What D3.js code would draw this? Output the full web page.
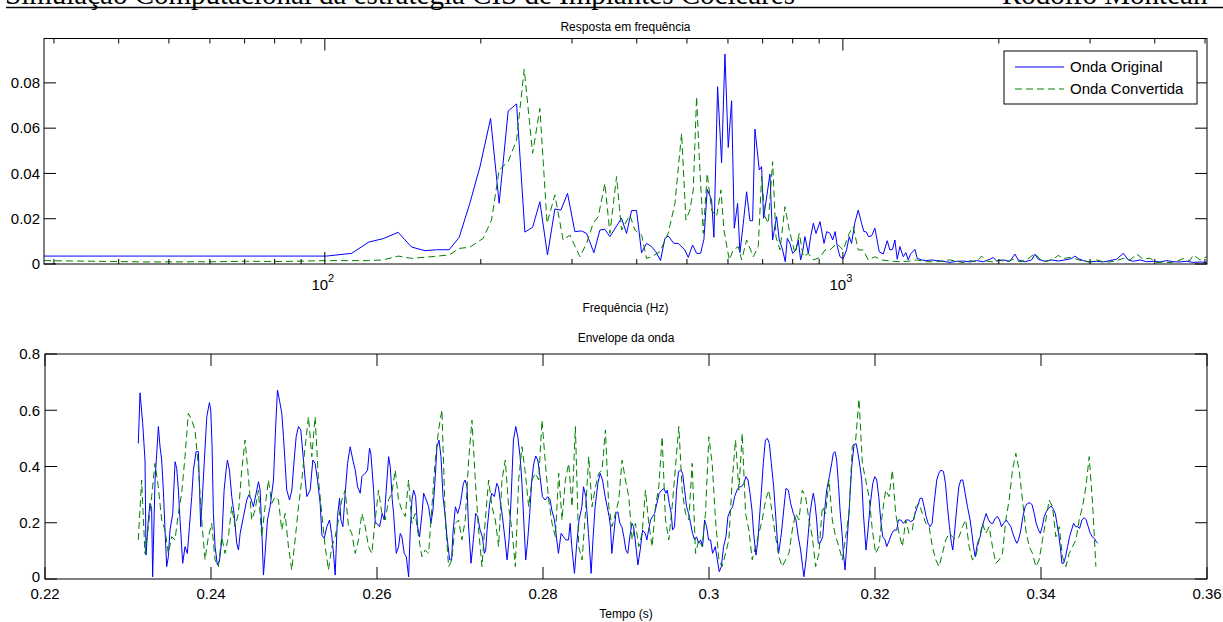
<!DOCTYPE html>
<html lang="pt">
<head>
<meta charset="utf-8">
<title>Resposta em frequência / Envelope da onda</title>
<script src="https://cdn.jsdelivr.net/npm/d3@7"></script>
<style>
  body { margin: 0; background: #fff; }
  svg { display: block; font-family: "Liberation Sans", Arial, sans-serif; }
</style>
</head>
<body>
<script>
// ---- data: frequency response (Hz, amplitude) ---------------------------------
const specOrig = [[28.7,0.0035],[100.8,0.0035],[112.6,0.0047],[121.6,0.0097],[129.6,0.0112],[138.5,0.0140],[147.0,0.0075],[156.0,0.0059],[164.3,0.0063],[173.8,0.0063],[181.7,0.0118],[190.5,0.0268],[199.3,0.0430],[208.9,0.0643],[217.0,0.0268],[225.9,0.0676],[234.5,0.0707],[243.3,0.0141],[251.8,0.0162],[260.1,0.0275],[269.0,0.0040],[278.0,0.0243],[285.5,0.0238],[294.1,0.0312],[303.8,0.0143],
  [313.0,0.0146],[320.1,0.0135],[330.6,0.0050],[339.6,0.0150],[347.2,0.0153],[355.0,0.0121],[373.9,0.0202],[382.3,0.0135],[390.9,0.0236],[399.7,0.0236],[408.7,0.0050],[417.8,0.0091],[427.2,0.0077],[435.5,0.0054],[444.6,0.0015],[453.3,0.0113],[460.0,0.0124],[471.8,0.0091],[481.0,0.0091],[495.5,0.0062],[502.9,0.0029],[512.7,0.0084],[521.9,0.0047],[531.2,0.0047],[539.2,0.0109],[547.2,0.0330],[557.9,0.0283],[563.7,0.0118],[573.0,0.0783],[583.3,0.0447],[592.0,0.0927],[600.8,0.0515],[609.8,0.0721],[617.1,0.0158],[626.3,0.0268],[632.8,0.0050],[642.3,0.0180],[651.9,0.0319],[661.6,0.0191],[669.5,0.0191],[676.5,0.0596],[689.6,0.0415],[696.8,0.0430],[703.0,0.0202],[723.1,0.0397],[731.7,0.0106],[744.8,0.0209],[753.7,0.0106],[765.0,0.0062],[774.1,0.0010],[781.0,0.0113],[790.3,0.0091],[799.8,0.0047],[811.8,0.0062],[820.2,0.0106],[828.7,0.0018],[836.1,0.0054],[844.8,0.0121],[857.6,0.0047],[866.5,0.0121],[877.0,0.0180],[887.4,0.0135],[903.3,0.0187],[919.6,0.0091],[930.6,0.0143],[944.4,0.0135],[955.7,0.0106],[966.0,0.0143],[975.5,0.0077],[987.4,0.0032],
  [1001.5,0.0024],[1016.4,0.0062],[1028.6,0.0121],[1039.3,0.0091],[1054.8,0.0183],[1070.6,0.0238],[1086.6,0.0180],[1097.9,0.0143],[1107.7,0.0143],[1120.9,0.0121],[1136.0,0.0124],[1152.9,0.0158],[1175.3,0.0054],[1196.4,0.0044],[1217.9,0.0103],[1232.4,0.0062],[1247.1,0.0065],[1260.1,0.0106],[1273.2,0.0021],[1288.4,0.0077],[1307.6,0.0032],[1323.2,0.0050],[1337.0,0.0018],[1351.0,0.0044],[1377.2,0.0065],[1391.6,0.0025],[1418.6,0.0018],[1450.5,0.0015],[1483.1,0.0018],[1516.4,0.0015],[1550.5,0.0013],[1608.9,0.0007],
  [1657.2,0.0012],[1707.1,0.0013],[1758.5,0.0009],[1811.4,0.0015],[1866.0,0.0010],[1922.1,0.0021],[1950.8,0.0029],[1979.9,0.0013],[2039.5,0.0018],[2100.9,0.0012],[2148.1,0.0044],[2180.2,0.0018],[2245.7,0.0010],[2313.2,0.0018],[2347.8,0.0043],[2382.8,0.0021],[2454.4,0.0012],[2528.2,0.0018],[2604.3,0.0013],[2682.6,0.0018],[2763.2,0.0024],[2804.5,0.0035],[2846.3,0.0024],[2910.3,0.0015],[2997.8,0.0009],[3088.0,0.0012],[3180.9,0.0009],[3276.6,0.0015],[3375.1,0.0021],[3477.8,0.0047],[3555.9,0.0018],[3635.8,0.0012],[3745.3,0.0018],[3857.8,0.0010],[3973.8,0.0012],[4093.4,0.0009],[4216.5,0.0015],[4343.4,0.0010],[4474.1,0.0009],[4608.7,0.0012],[4747.3,0.0007],[4890.1,0.0009],[5037.1,0.0007]];

const specConv = [[28.7,0.0015],[45.0,0.0009],[60.9,0.0010],[70.6,0.0012],[81.9,0.0011],[100.8,0.0015],[121.6,0.0015],[129.6,0.0018],[138.5,0.0035],[147.0,0.0025],[160.0,0.0032],[173.8,0.0040],[181.7,0.0069],[190.5,0.0074],[202.1,0.0113],[209.8,0.0194],[217.0,0.0415],[225.9,0.0452],[234.5,0.0548],[242.6,0.0860],[251.8,0.0489],[260.1,0.0687],[268.5,0.0180],[278.0,0.0305],[288.4,0.0106],[297.2,0.0128],
  [310.7,0.0032],[320.1,0.0091],[329.6,0.0180],[337.1,0.0209],[347.2,0.0356],[355.0,0.0135],[365.7,0.0386],[373.9,0.0150],[388.0,0.0216],[396.7,0.0150],[408.7,0.0128],[417.8,0.0025],[427.2,0.0032],[443.3,0.0054],[460.0,0.0135],[474.0,0.0268],[488.3,0.0577],[497.7,0.0194],[506.6,0.0238],[514.2,0.0327],[521.9,0.0739],[528.1,0.0474],[537.6,0.0135],[547.2,0.0400],[557.9,0.0238],[570.3,0.0209],[581.6,0.0327],[589.4,0.0150],[603.5,0.0018],[614.4,0.0062],[628.2,0.0077],[637.6,0.0018],[651.9,0.0106],[671.5,0.0032],[686.5,0.0077],[696.8,0.0386],[707.2,0.0209],[717.8,0.0180],[731.7,0.0452],[742.6,0.0121],[756.0,0.0062],[773.0,0.0253],[787.9,0.0150],[808.2,0.0047],[823.9,0.0135],[838.6,0.0032],[857.6,0.0047],[877.0,0.0018],[903.3,0.0029],[923.7,0.0062],[944.4,0.0062],[972.3,0.0091],
  [1001.5,0.0062],[1028.6,0.0135],[1047.0,0.0165],[1070.6,0.0062],[1094.7,0.0062],[1119.2,0.0018],[1152.9,0.0032],[1187.6,0.0018],[1232.4,0.0013],[1288.4,0.0010],[1347.0,0.0013],[1387.5,0.0018],[1450.5,0.0010],[1516.4,0.0010],[1608.9,0.0018],
  [1657.2,0.0012],[1707.1,0.0006],[1758.5,0.0015],[1811.4,0.0010],[1852.1,0.0035],[1893.8,0.0013],[1950.8,0.0009],[2009.5,0.0018],[2070.0,0.0009],[2132.3,0.0021],[2196.4,0.0010],[2262.4,0.0018],[2347.8,0.0047],[2400.5,0.0021],[2472.7,0.0012],[2547.0,0.0021],[2604.3,0.0038],[2662.8,0.0024],[2742.9,0.0029],[2825.3,0.0021],[2910.3,0.0012],[2997.8,0.0009],[3088.0,0.0018],[3180.9,0.0010],[3276.6,0.0009],[3375.1,0.0015],[3477.8,0.0025],[3582.3,0.0018],[3690.2,0.0044],[3801.2,0.0021],[3915.4,0.0026],[4033.2,0.0006],[4154.5,0.0009],[4279.5,0.0006],[4408.3,0.0012],[4540.9,0.0024],[4677.5,0.0015],[4747.3,0.0040],[4890.1,0.0018],[5037.1,0.0032]];

// ---- data: wave envelope (time in ms, value) -------------------------------------
const envOrig = [[231.24,0.482],[231.45,0.662],[231.77,0.553],[232.05,0.423],[232.17,0.085],[232.45,0.210],[232.65,0.269],[232.85,0.251],[232.97,0.008],[233.26,0.352],[233.66,0.542],[233.86,0.470],[234.06,0.423],[234.26,0.316],[234.46,0.174],[234.66,0.044],[234.86,0.079],[235.06,0.174],[235.39,0.233],[235.67,0.417],[235.87,0.393],[236.07,0.316],[236.27,0.210],[236.59,0.056],[236.87,0.115],[237.15,0.091],[237.40,0.186],[237.68,0.293],[237.88,0.387],[238.20,0.453],[238.48,0.453],[238.76,0.186],[239.49,0.577],[239.81,0.627],[239.97,0.601],[240.13,0.470],[240.29,0.233],[240.49,0.115],[240.77,0.050],[241.01,0.062],[241.30,0.139],[241.58,0.316],[241.82,0.387],[241.98,0.423],[242.22,0.387],[242.50,0.293],[242.78,0.233],[243.10,0.127],[243.31,0.103],[243.51,0.162],[243.91,0.222],[244.31,0.281],[244.55,0.299],[244.79,0.287],[245.11,0.257],[245.44,0.305],[245.72,0.346],[245.92,0.316],[246.12,0.174],[246.32,0.014],[246.52,0.091],[246.80,0.210],[247.12,0.257],[247.53,0.352],[247.77,0.530],[248.01,0.672],[248.25,0.636],[248.53,0.589],[248.73,0.506],[248.93,0.411],[249.13,0.316],[249.46,0.281],[249.74,0.316],[250.02,0.423],[250.26,0.506],[250.54,0.542],[250.82,0.530],[251.14,0.423],[251.35,0.352],[251.55,0.293],[251.95,0.316],[252.27,0.423],[252.55,0.411],[252.83,0.352],[253.15,0.269],[253.36,0.156],[253.64,0.145],[253.96,0.186],[254.28,0.210],[254.52,0.162],[254.76,0.091],[254.96,0.014],[255.24,0.222],[255.49,0.287],[255.65,0.210],[255.89,0.186],[256.17,0.305],[256.45,0.411],[256.77,0.470],[257.09,0.423],[257.38,0.387],[257.66,0.328],[257.98,0.305],[258.18,0.364],[258.58,0.376],[258.86,0.387],[259.10,0.465],[259.26,0.447],[259.59,0.316],[259.79,0.198],[259.99,0.198],[260.31,0.186],[260.63,0.233],[260.87,0.210],[261.11,0.316],[261.40,0.435],[261.60,0.399],[261.84,0.281],[262.00,0.233],[262.32,0.091],[262.60,0.115],[262.80,0.162],[263.00,0.150],[263.28,0.091],[263.53,0.079],[263.81,0.008],[264.01,0.174],[264.21,0.281],[264.41,0.316],[264.65,0.293],[264.89,0.186],[265.13,0.150],[265.42,0.233],[265.62,0.305],[265.94,0.281],[266.22,0.257],[266.50,0.198],[266.74,0.245],[267.02,0.364],[267.22,0.470],[267.47,0.494],[267.71,0.435],[267.95,0.293],[268.23,0.222],[268.43,0.150],[268.75,0.068],[268.99,0.068],[269.15,0.162],[269.44,0.257],
  [269.72,0.233],[269.96,0.257],[270.12,0.281],[270.41,0.340],[270.61,0.352],[270.85,0.328],[271.01,0.198],[271.33,0.056],[271.61,0.139],[271.89,0.233],[272.13,0.222],[272.42,0.174],[272.70,0.150],[272.94,0.091],[273.10,0.103],[273.26,0.174],[273.58,0.269],[273.82,0.305],[274.14,0.293],[274.43,0.340],[274.63,0.328],[274.83,0.281],[275.11,0.222],[275.43,0.139],[275.67,0.068],[275.91,0.139],[276.15,0.281],[276.44,0.494],[276.72,0.542],[276.96,0.506],[277.24,0.435],[277.44,0.352],[277.68,0.210],[277.92,0.068],[278.16,0.139],[278.40,0.233],[278.65,0.352],[278.89,0.411],[279.13,0.437],[279.37,0.423],[279.65,0.364],[279.93,0.293],[280.25,0.281],[280.58,0.293],[280.86,0.281],[281.06,0.245],[281.38,0.210],[281.66,0.139],[281.86,0.091],[282.18,0.162],[282.47,0.150],[282.75,0.139],[283.07,0.139],[283.27,0.198],[283.47,0.115],[283.79,0.020],[284.07,0.127],[284.35,0.210],[284.68,0.257],[284.88,0.328],[285.16,0.293],[285.48,0.162],[285.80,0.020],[286.04,0.150],[286.28,0.257],[286.61,0.340],[286.89,0.376],[287.17,0.352],[287.49,0.293],[287.73,0.257],[287.97,0.222],[288.13,0.186],[288.29,0.091],[288.54,0.162],[288.78,0.233],[289.02,0.239],[289.26,0.198],[289.50,0.186],[289.74,0.150],[289.98,0.103],[290.22,0.091],[290.46,0.150],[290.71,0.198],[290.91,0.186],[291.11,0.139],[291.43,0.050],[291.71,0.103],[291.99,0.174],[292.31,0.162],[292.52,0.139],[292.72,0.174],[292.96,0.210],[293.20,0.222],[293.44,0.233],[293.72,0.269],[294.00,0.305],[294.32,0.316],[294.57,0.322],[294.81,0.305],[294.97,0.316],[295.21,0.269],[295.45,0.233],[295.61,0.174],[295.85,0.186],[296.09,0.316],[296.33,0.382],[296.58,0.387],[296.82,0.376],[297.06,0.316],[297.30,0.257],[297.54,0.233],[297.78,0.198],[298.02,0.162],[298.26,0.139],[298.50,0.150],[298.75,0.127],[298.99,0.139],[299.23,0.115],[299.47,0.210],[299.71,0.186],[299.95,0.139],[300.19,0.139],[300.43,0.091],[300.76,0.115],[301.00,0.068],[301.24,0.026],[301.48,0.044],[301.76,0.115],[302.04,0.150],[302.28,0.222],[302.57,0.245],[302.85,0.257],[303.09,0.293],[303.37,0.316],[303.65,0.328],[303.89,0.328],[304.21,0.340],[304.45,0.364],[304.70,0.352],[304.94,0.305],[305.18,0.245],[305.38,0.162],[305.66,0.085],[305.90,0.139],[306.06,0.210],[306.30,0.305],[306.54,0.411],[306.79,0.494],[307.03,0.500],[307.27,0.482],[307.51,0.411],[307.79,0.328],[307.99,0.245],[308.23,0.139],[308.39,0.091],[308.72,0.162],[309.00,0.245],
  [309.27,0.322],[309.56,0.316],[309.84,0.269],[310.16,0.233],[310.48,0.210],[310.76,0.150],[311.04,0.103],[311.28,0.044],[311.44,0.008],[311.69,0.068],[311.93,0.150],[312.17,0.233],[312.41,0.281],[312.57,0.305],[312.77,0.269],[312.97,0.210],[313.17,0.127],[313.37,0.127],[313.70,0.150],[313.98,0.257],[314.18,0.316],[314.50,0.364],[314.78,0.411],[314.98,0.447],[315.18,0.453],[315.38,0.423],[315.59,0.340],[315.79,0.245],[316.03,0.162],[316.19,0.091],[316.39,0.032],[316.59,0.115],[316.91,0.257],[317.19,0.399],[317.47,0.476],[317.72,0.482],[317.88,0.459],[318.20,0.399],[318.40,0.352],[318.60,0.233],[318.80,0.150],[318.92,0.103],[319.16,0.174],[319.40,0.257],[319.73,0.340],[319.97,0.364],[320.21,0.352],[320.45,0.293],[320.69,0.210],[320.93,0.150],[321.21,0.139],[321.41,0.115],[321.74,0.139],[322.02,0.162],[322.30,0.174],[322.62,0.174],[322.82,0.210],[323.10,0.210],[323.42,0.198],[323.75,0.210],[324.03,0.210],[324.31,0.204],[324.63,0.210],[324.83,0.233],[325.11,0.257],[325.43,0.287],[325.68,0.287],[325.92,0.257],[326.16,0.222],[326.40,0.198],[326.64,0.186],[326.88,0.198],[327.12,0.269],[327.44,0.352],[327.69,0.376],[327.93,0.387],[328.25,0.382],[328.49,0.340],[328.73,0.257],[328.97,0.186],[329.21,0.127],[329.37,0.103],[329.61,0.174],[329.86,0.257],[330.10,0.328],[330.34,0.352],[330.58,0.352],[330.86,0.305],[331.14,0.257],[331.46,0.210],[331.67,0.162],[331.87,0.115],[332.07,0.079],[332.35,0.127],[332.67,0.150],[332.91,0.186],[333.15,0.210],[333.39,0.233],[333.68,0.210],[333.96,0.198],[334.20,0.198],[334.48,0.216],[334.76,0.222],[335.00,0.210],[335.24,0.186],[335.48,0.198],[335.81,0.210],[336.09,0.198],[336.37,0.186],[336.61,0.162],[336.89,0.139],[337.09,0.127],[337.29,0.139],[337.57,0.174],[337.82,0.222],[338.10,0.257],[338.38,0.269],[338.70,0.271],[338.94,0.263],[339.18,0.233],[339.42,0.198],[339.71,0.174],[339.91,0.162],[340.15,0.186],[340.39,0.222],[340.63,0.239],[340.91,0.251],[341.19,0.260],[341.43,0.251],[341.72,0.233],[341.92,0.198],[342.12,0.162],[342.32,0.115],[342.52,0.056],[342.72,0.056],[342.96,0.079],[343.20,0.115],[343.44,0.150],[343.68,0.174],[343.93,0.198],[344.17,0.186],[344.41,0.186],[344.65,0.180],[344.93,0.210],[345.21,0.218],[345.45,0.210],[345.69,0.186],[345.94,0.162],[346.18,0.150],[346.42,0.145],[346.66,0.133],[346.82,0.127]];

// converted wave: samples read every 0.402 ms starting at 231.24 ms
const envConvStartMs = 231.24, envConvStepMs = 0.402;
const envConv = [0.139,0.352,0.091,0.186,0.293,0.411,0.328,0.210,0.174,0.091,0.150,0.139,0.233,0.305,0.435,0.589,0.565,0.530,0.399,0.210,0.068,0.150,0.198,0.068,0.044,0.150,0.091,0.150,0.257,0.186,0.233,0.387,0.494,0.364,0.210,0.245,0.316,0.150,0.257,0.352,0.269,0.293,0.281,0.174,0.233,0.115,0.032,0.139,0.257,0.352,0.470,0.577,0.435,0.577,0.352,0.233,0.115,0.032,0.115,0.150,0.210,0.281,0.316,0.186,0.162,0.091,0.139,0.233,0.186,0.115,0.091,0.210,0.316,0.233,0.210,0.281,0.305,0.387,0.281,0.245,0.222,0.352,0.198,0.233,0.150,0.079,0.103,0.091,0.257,0.423,0.530,0.601,0.210,0.044,0.068,0.198,0.210,
  0.139,0.210,0.423,0.565,0.352,0.174,0.044,0.210,0.352,0.257,0.210,0.115,0.352,0.423,0.257,0.174,0.044,0.352,0.470,0.376,0.257,0.352,0.376,0.352,0.565,0.411,0.281,0.198,0.150,0.376,0.210,0.352,0.411,0.257,0.542,0.115,0.068,0.233,0.435,0.257,0.328,0.376,0.387,0.530,0.257,0.186,0.233,0.281,0.423,0.352,0.293,0.139,0.198,0.115,0.162,0.316,0.198,0.115,0.257,0.328,0.506,0.210,0.139,0.257,0.399,0.542,0.316,0.233,0.210,0.411,0.091,0.139,0.115,0.233,0.506,0.411,0.210,0.068,0.044,0.091,0.139,0.352,0.494,0.316,0.518,0.233,0.174,0.068,0.115,0.162,0.210,0.281,0.316,0.233,0.150,0.079,0.044,
  0.068,0.091,0.174,0.233,0.210,0.316,0.293,0.210,0.150,0.044,0.091,0.257,0.233,0.352,0.210,0.150,0.115,0.068,0.150,0.233,0.470,0.494,0.640,0.411,0.352,0.293,0.174,0.091,0.115,0.233,0.316,0.293,0.387,0.233,0.162,0.115,0.210,0.162,0.174,0.257,0.269,0.233,0.198,0.186,0.115,0.068,0.044,0.091,0.139,0.162,0.150,0.139,0.150,0.186,0.210,0.115,0.068,0.079,0.139,0.198,0.162,0.186,0.115,0.056,0.068,0.091,0.210,0.281,0.387,0.447,0.387,0.281,0.174,0.115,0.091,0.044,0.068,0.139,0.210,0.281,0.257,0.150,0.186,0.079,0.044,0.091,0.115,0.139,0.210,0.257,0.328,0.435,0.269,0.044];

// ---- ticks and labels ----------------------------------------------------------
const specYTicks = [0, 0.02, 0.04, 0.06, 0.08];
const specMajor = [100, 1000];
const specMinor = [30, 40, 50, 60, 70, 80, 90, 200, 300, 400, 500, 600, 700, 800, 900, 2000, 3000, 4000, 5000];
const envXTicks = [220, 240, 260, 280, 300, 320, 340, 360];
const envYTicks = [0, 0.2, 0.4, 0.6, 0.8];
const seriesNames = ["Onda Original", "Onda Convertida"];

const W = 1223, H = 622;
const BLUE = "#0000ff", GREEN = "#008000";

const svg = d3.select("body").append("svg").attr("width", W).attr("height", H);

// page header of the document (cut at the top)
svg.append("text").attr("x", 5).attr("y", 4)
   .attr("font-family", "Liberation Serif, Times New Roman, serif").attr("font-size", 29)
   .text("Simulação Computacional da estratégia CIS de Implantes Cocleares");
svg.append("text").attr("x", 1002).attr("y", 4)
   .attr("font-family", "Liberation Serif, Times New Roman, serif").attr("font-size", 29)
   .text("Rodolfo Montean");
svg.append("line").attr("x1", 6).attr("x2", W).attr("y1", 7.5).attr("y2", 7.5)
   .attr("stroke", "#000").attr("stroke-width", 1.4);

// ---- top panel ------------------------------------------------------------------
const p1 = {l: 44, r: 1207, t: 38.5, b: 264};
const x1 = d3.scaleLog().domain([28.7, 5045]).range([p1.l, p1.r]);
const y1 = d3.scaleLinear().domain([0, 0.0996]).range([p1.b, p1.t]);

svg.append("clipPath").attr("id", "clip1").append("rect")
   .attr("x", p1.l).attr("y", p1.t).attr("width", p1.r - p1.l).attr("height", p1.b - p1.t);

const line1 = d3.line().x(d => x1(d[0])).y(d => y1(d[1]));
const g1 = svg.append("g").attr("clip-path", "url(#clip1)");
g1.append("path").datum(specOrig).attr("d", line1)
  .attr("fill", "none").attr("stroke", BLUE).attr("stroke-width", 1);
g1.append("path").datum(specConv).attr("d", line1)
  .attr("fill", "none").attr("stroke", GREEN).attr("stroke-width", 1).attr("stroke-dasharray", "7,4");

function frame(p) {
  svg.append("rect").attr("x", p.l).attr("y", p.t).attr("width", p.r - p.l).attr("height", p.b - p.t)
     .attr("fill", "none").attr("stroke", "#000").attr("stroke-width", 1);
}
frame(p1);

// ticks point inward, on both opposite sides of the box
function xTicks(scale, p, vals, len) {
  vals.forEach(v => {
    const x = scale(v);
    svg.append("line").attr("x1", x).attr("x2", x).attr("y1", p.b).attr("y2", p.b - len).attr("stroke", "#000");
    svg.append("line").attr("x1", x).attr("x2", x).attr("y1", p.t).attr("y2", p.t + len).attr("stroke", "#000");
  });
}
function yTicks(scale, p, vals, len) {
  vals.forEach(v => {
    const y = scale(v);
    svg.append("line").attr("x1", p.l).attr("x2", p.l + len).attr("y1", y).attr("y2", y).attr("stroke", "#000");
    svg.append("line").attr("x1", p.r).attr("x2", p.r - len).attr("y1", y).attr("y2", y).attr("stroke", "#000");
  });
}
xTicks(x1, p1, specMajor, 12);
xTicks(x1, p1, specMinor, 5);
yTicks(y1, p1, specYTicks, 12);

svg.selectAll("text.y1").data(specYTicks).join("text").attr("class", "y1")
   .attr("x", p1.l - 4).attr("y", d => y1(d)).attr("dy", "0.35em")
   .attr("text-anchor", "end").attr("font-size", 15)
   .text(d => d === 0 ? "0" : String(d));

svg.selectAll("text.x1").data(specMajor).join("text").attr("class", "x1")
   .attr("x", d => x1(d) - 2).attr("y", 290).attr("text-anchor", "middle").attr("font-size", 15)
   .each(function(d) {
     const t = d3.select(this);
     t.append("tspan").text("10");
     t.append("tspan").attr("dy", -8).attr("font-size", 11).text(Math.round(Math.log10(d)));
   });

svg.append("text").attr("x", (p1.l + p1.r) / 2).attr("y", 31).attr("text-anchor", "middle")
   .attr("font-size", 12).text("Resposta em frequência");
svg.append("text").attr("x", (p1.l + p1.r) / 2).attr("y", 312).attr("text-anchor", "middle")
   .attr("font-size", 12).text("Frequência (Hz)");

// legend
const lg = svg.append("g").attr("transform", "translate(1004,51)");
lg.append("rect").attr("width", 193).attr("height", 53).attr("fill", "#fff").attr("stroke", "#000");
seriesNames.forEach((name, i) => {
  const yy = 16 + i * 22;
  lg.append("line").attr("x1", 11).attr("x2", 60).attr("y1", yy).attr("y2", yy)
    .attr("stroke", i === 0 ? BLUE : GREEN).attr("stroke-dasharray", i === 0 ? null : "7,4");
  lg.append("text").attr("x", 66).attr("y", yy).attr("dy", "0.35em").attr("font-size", 15).text(name);
});

// ---- bottom panel ---------------------------------------------------------------
const p2 = {l: 45, r: 1207, t: 354, b: 579};
const x2 = d3.scaleLinear().domain([220, 360]).range([p2.l, p2.r]);
const y2 = d3.scaleLinear().domain([0, 0.8]).range([p2.b, p2.t]);

svg.append("clipPath").attr("id", "clip2").append("rect")
   .attr("x", p2.l).attr("y", p2.t).attr("width", p2.r - p2.l).attr("height", p2.b - p2.t);

const g2 = svg.append("g").attr("clip-path", "url(#clip2)");
g2.append("path").datum(envOrig)
  .attr("d", d3.line().x(d => x2(d[0])).y(d => y2(d[1])))
  .attr("fill", "none").attr("stroke", BLUE).attr("stroke-width", 1);
g2.append("path").datum(envConv)
  .attr("d", d3.line().x((d, i) => x2(envConvStartMs + i * envConvStepMs)).y(d => y2(d)))
  .attr("fill", "none").attr("stroke", GREEN).attr("stroke-width", 1).attr("stroke-dasharray", "7,4");

frame(p2);
xTicks(x2, p2, envXTicks, 12);
yTicks(y2, p2, envYTicks, 12);

svg.selectAll("text.y2").data(envYTicks).join("text").attr("class", "y2")
   .attr("x", p2.l - 5).attr("y", d => y2(d) - (d === 0 ? 2 : 0)).attr("dy", "0.35em")
   .attr("text-anchor", "end").attr("font-size", 15)
   .text(d => d === 0 ? "0" : String(d));
svg.selectAll("text.x2").data(envXTicks).join("text").attr("class", "x2")
   .attr("x", d => x2(d)).attr("y", 599).attr("text-anchor", "middle").attr("font-size", 15)
   .text(d => String(+(d / 1000).toFixed(2)));

svg.append("text").attr("x", (p2.l + p2.r) / 2).attr("y", 342).attr("text-anchor", "middle")
   .attr("font-size", 12).text("Envelope da onda");
svg.append("text").attr("x", (p2.l + p2.r) / 2).attr("y", 618).attr("text-anchor", "middle")
   .attr("font-size", 12).text("Tempo (s)");
</script>
</body>
</html>
